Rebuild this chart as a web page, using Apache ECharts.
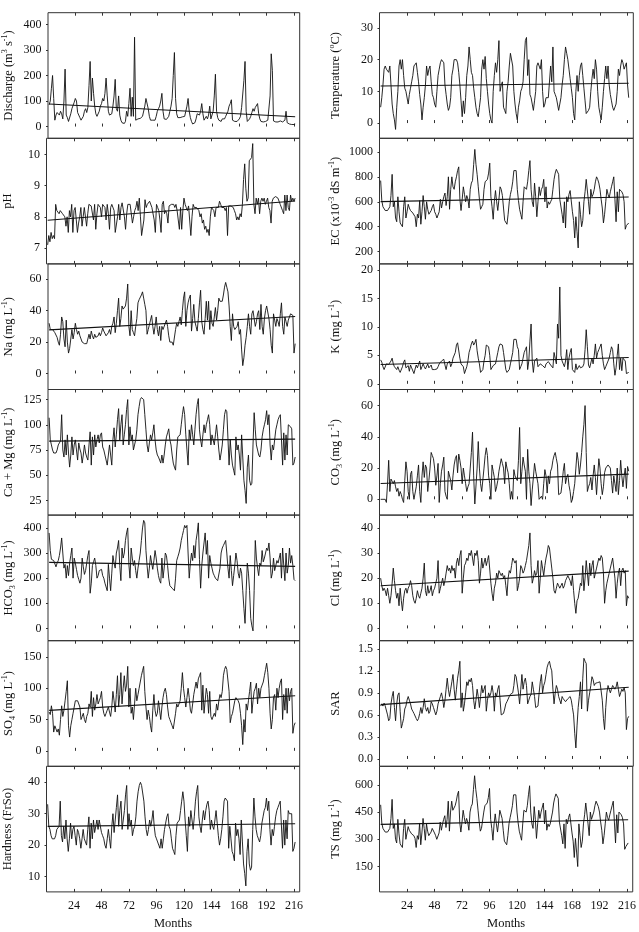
<!DOCTYPE html>
<html>
<head>
<meta charset="utf-8">
<script src="https://cdn.jsdelivr.net/npm/echarts@6/dist/echarts.min.js"></script>
<style>
  html, body { margin: 0; padding: 0; background: #fff; }
  #chart { width: 639px; height: 932px; }
</style>
</head>
<body>
<div id="chart"></div>
<script>
// monthly records, month 1 .. 217
const discharge = [
  85, 100, 150, 200, 110, 25, 45, 55, 60, 45, 60, 50,
  30, 100, 225, 45, 35, 20, 25, 50, 70, 65, 95, 110,
  100, 55, 45, 35, 25, 20, 40, 60, 70, 55, 75, 160,
  255, 100, 190, 130, 80, 50, 40, 45, 60, 80, 90, 110,
  100, 130, 190, 120, 60, 45, 40, 50, 80, 120, 185, 70,
  60, 120, 45, 25, 15, 10, 12, 20, 60, 40, 90, 150,
  40, 115, 40, 350, 25, 30, 30, 28, 32, 30, 40, 45,
  80, 110, 115, 70, 40, 25, 22, 25, 28, 25, 40, 60,
  70, 80, 100, 130, 60, 30, 25, 28, 35, 40, 60, 80,
  110, 200, 290, 110, 50, 35, 33, 35, 35, 38, 35, 40,
  60, 80, 110, 60, 35, 20, 10, 12, 15, 30, 50, 55,
  45, 60, 90, 50, 25, 20, 40, 30, 45, 80, 30, 35,
  60, 120, 205, 60, 35, 25, 25, 20, 30, 35, 30, 40,
  50, 60, 80, 90, 105, 25, 20, 20, 22, 20, 22, 30,
  40, 75, 70, 180, 255, 60, 20, 20, 30, 40, 55, 70,
  60, 75, 80, 90, 50, 30, 20, 20, 18, 22, 20, 25,
  25, 30, 120, 285, 220, 22, 20, 18, 20, 18, 20, 22,
  20, 18, 20, 25, 60, 15, 12, 10, 12, 8, 10, 8,
  10
];
const temperature = [
  5, 8, 12, 17, 18, 17, 17, 16, 18, 12, 6, 3,
  1, -2, 5, 10, 18, 20, 17, 20, 15, 11, 10, 10,
  6, 9, 11, 13, 15, 18, 18, 19, 16, 13, 9, 6,
  1, 5, 8, 12, 18, 15, 17, 18, 13, 9, 8, 6,
  5, 10, 15, 17, 19, 20, 20, 19, 12, 9, 6, 4,
  5, 8, 15, 17, 20, 20, 20, 19, 16, 12, 7, 2,
  7, 3, 8, 15, 18, 24, 20, 16, 15, 11, 8, 5,
  3, 2, 5, 8, 17, 20, 17, 21, 14, 10, 6, 3,
  1, 0, 10, 15, 19, 16, 20, 26, 10, 12, 13, 5,
  4, 3, 10, 13, 18, 22, 22, 18, 10, 6, 3, 1,
  5, 7, 10, 11, 13, 20, 26, 27, 15, 20, 9, 8,
  6, 4, 7, 10, 18, 19, 19, 17, 20, 10, 5, 6,
  8, 8, 8, 8, 18, 13, 24, 10, 9, 8, 6, 4,
  6, 8, 12, 15, 20, 24, 22, 20, 17, 14, 11, 8,
  3, 1, 10, 15, 10, 15, 18, 19, 15, 11, 7, 3,
  3, 4, 5, 10, 14, 17, 14, 20, 17, 10, 5, 3,
  1, 5, 10, 14, 18, 14, 18, 12, 9, 7, 5, 4,
  4, 6, 10, 17, 15, 18, 20, 19, 17, 18, 19, 12,
  8
];
const ph = [
  7.1, 7.4, 7.2, 7.5, 7.3, 7.4, 7.3, 8.4, 8.2, 8.2, 8.1, 8.2,
  8.15, 8.1, 8.1, 8.0, 7.7, 8.0, 7.5, 8.2, 8.0, 8.4, 7.5, 8.2,
  8.3, 8.25, 7.5, 7.8, 8.0, 8.3, 7.7, 8.0, 8.3, 8.35, 7.7, 8.1,
  8.4, 8.4, 8.35, 8.4, 7.9, 8.4, 7.6, 8.1, 8.4, 8.35, 8.3, 8.0,
  8.4, 8.4, 8.3, 7.9, 8.4, 8.1, 7.6, 8.3, 8.4, 8.35, 8.2, 7.5,
  7.5, 8.0, 8.4, 7.9, 8.3, 8.45, 8.4, 8.0, 7.6, 8.1, 8.4, 8.45,
  8.4, 8.4, 7.8, 8.0, 8.2, 8.3, 8.5, 8.2, 8.6, 8.0, 7.4, 7.35,
  7.9, 8.55, 8.3, 8.4, 8.4, 8.5, 8.5, 8.3, 8.3, 7.9, 7.5, 8.4,
  8.3, 8.2, 7.9, 7.5, 8.4, 8.5, 8.1, 8.2, 8.1, 7.8, 8.35, 8.4,
  8.4, 8.45, 8.4, 8.3, 8.4, 8.2, 7.9, 7.6, 8.3, 7.6, 8.2, 8.6,
  8.4, 8.3, 8.2, 8.35, 8.4, 7.4, 8.0, 8.4, 8.3, 8.35, 8.3, 8.35,
  8.2, 8.0, 8.1, 7.8, 7.9, 7.6, 7.7, 7.5, 7.6, 7.4, 8.0, 8.3,
  8.25, 8.2, 8.0, 8.3, 8.25, 8.3, 8.5, 8.4, 8.3, 8.35, 8.3, 8.2,
  8.3, 7.4, 8.35, 8.4, 8.35, 8.3, 8.3, 8.2, 8.1, 7.9, 8.0, 7.9,
  8.1, 8.0, 8.4, 9.2, 9.7, 8.9, 8.5, 8.6, 9.8, 9.85, 9.9, 10.35,
  8.4, 8.1, 8.6, 8.4, 8.6, 8.1, 8.5, 8.6, 8.5, 8.6, 8.4, 8.5,
  8.6, 8.3, 8.2, 7.8, 8.5, 8.6, 8.55, 8.65, 8.7, 8.6, 8.5, 8.4,
  8.45, 8.2, 8.1, 8.7, 8.2, 8.7, 8.3, 8.2, 8.7, 8.5, 8.6, 8.5,
  8.6
];
const ec = [
  770, 610, 560, 550, 530, 525, 530, 535, 560, 650, 820, 560,
  600, 470, 440, 640, 520, 430, 420, 400, 560, 640, 470, 520,
  580, 550, 530, 520, 510, 500, 480, 400, 500, 470, 610, 420,
  520, 650, 560, 460, 600, 540, 500, 490, 530, 560, 580, 520,
  500, 470, 460, 520, 620, 550, 600, 640, 670, 570, 640, 800,
  540, 700, 800, 720, 700, 760, 800, 850, 880, 620, 530, 620,
  720, 660, 600, 650, 620, 550, 700, 750, 770, 900, 1020, 900,
  820, 720, 620, 540, 560, 580, 700, 760, 770, 780, 830, 910,
  640, 560, 460, 600, 690, 600, 530, 620, 720, 700, 650, 550,
  450, 440, 420, 500, 600, 660, 700, 760, 850, 860, 850, 700,
  610, 540, 500, 460, 600, 720, 710, 700, 760, 850, 930, 700,
  600, 560, 750, 640, 480, 600, 720, 650, 700, 720, 780, 600,
  720, 550, 600, 580, 600, 620, 700, 780, 830, 860, 840, 820,
  620, 620, 500, 430, 600, 390, 640, 600, 660, 690, 700, 520,
  450, 310, 480, 360, 230, 600, 500, 400, 450, 600, 680, 780,
  780, 600, 500, 700, 640, 660, 700, 760, 800, 780, 750, 700,
  620, 550, 430, 500, 600, 700, 660, 630, 680, 720, 760, 800,
  620, 440, 680, 520, 700, 690, 680, 660, 600, 380, 410, 420,
  430
];
const na = [
  32, 28, 27, 28, 27, 26, 25, 23, 20, 18, 25, 36,
  33, 22, 17, 34, 20, 13, 16, 17, 28, 22, 26, 32,
  28, 25, 27, 24, 22, 20, 20, 19, 20, 19, 18, 25,
  22, 27, 24, 22, 25, 23, 24, 24, 26, 24, 26, 29,
  27, 26, 24, 23, 26, 28, 25, 30, 32, 36, 26, 32,
  40, 48, 30, 35, 43, 41, 42, 43, 48, 57, 30, 24,
  40, 28, 26, 24, 30, 35, 45, 47, 48, 50, 52, 48,
  44, 40, 25, 28, 31, 34, 37, 30, 25, 30, 36, 28,
  24, 30, 21, 30, 28, 29, 32, 34, 30, 24, 20, 19,
  20, 18, 17, 28, 32, 30, 33, 36, 31, 40, 48, 52,
  30, 40, 45, 48, 50, 27, 35, 44, 33, 30, 27, 35,
  45, 53, 33, 28, 25, 35, 46, 34, 46, 28, 40, 32,
  30, 36, 42, 34, 40, 48, 46, 47, 46, 50, 55, 58,
  55, 52, 43, 30, 21, 38, 30, 28, 29, 30, 33, 25,
  28, 15, 5, 10, 18, 23, 30, 38, 30, 25, 38, 40,
  35, 30, 33, 38, 40, 28, 44, 30, 25, 35, 40, 43,
  44, 35, 28, 18, 13, 38, 34, 30, 35, 33, 30, 38,
  45, 30, 25, 36, 33, 30, 34, 36, 38, 39, 37, 13,
  19
];
const potassium = [
  4.2, 3.8, 3.0, 2.5, 2.2, 3.5, 3.3, 3.4, 3.6, 4.0, 4.5, 3.5,
  3.0, 3.2, 2.5, 3.0, 2.4, 2.0, 2.2, 3.0, 3.8, 4.2, 2.8, 3.0,
  3.2, 2.2, 3.3, 2.8, 2.5, 1.8, 2.6, 3.3, 2.8, 3.4, 4.0, 2.5,
  3.0, 3.5, 3.0, 2.6, 2.3, 3.5, 2.8, 3.0, 3.3, 2.5, 2.6, 2.5,
  2.5, 2.6, 3.0, 3.5, 3.8, 4.0, 4.2, 4.3, 3.3, 2.5, 3.5, 3.8,
  4.0, 3.0, 3.5, 4.5, 4.2, 5.5, 6.8, 7.2, 7.5, 4.5, 3.5, 3.8,
  3.0, 1.8, 2.0, 3.0, 4.0, 5.5, 6.2, 7.0, 7.5, 6.8, 7.2, 7.8,
  5.8, 4.5, 3.5, 2.0, 2.3, 2.5, 4.0, 5.0, 6.8, 6.7, 6.5, 5.0,
  2.5, 2.8, 3.2, 3.0, 3.5, 4.5, 5.5, 6.5, 7.0, 6.9, 6.8, 5.5,
  4.0, 2.5, 2.0, 2.2, 2.5, 3.5, 4.5, 5.5, 7.8, 7.5, 7.8, 6.5,
  6.0, 2.5, 3.0, 3.5, 4.5, 5.5, 6.0, 6.5, 2.5, 4.0, 7.5, 10.5,
  4.0, 2.0, 4.0, 4.2, 4.5, 3.0, 3.3, 3.5, 3.4, 3.2, 3.0, 2.8,
  3.5, 3.8, 3.9, 4.0, 3.3, 3.0, 2.8, 5.5, 4.5, 3.5, 10.5, 8.0,
  17.0, 5.0, 4.0, 3.5, 3.0, 4.0, 6.0, 2.5, 4.5, 5.5, 6.2, 2.5,
  2.3, 2.0, 3.5, 2.5, 2.8, 3.2, 2.8, 2.5, 3.0, 3.5, 6.0, 9.5,
  6.5, 3.3, 2.8, 2.5, 4.5, 3.5, 5.0, 7.0, 4.5, 5.5, 6.0, 6.5,
  7.0, 5.0, 3.5, 2.5, 3.0, 3.3, 4.0, 4.5, 5.5, 6.5, 6.0, 3.5,
  1.5, 2.8, 5.0, 7.0, 2.5, 4.5, 2.3, 4.5, 4.2, 4.0, 1.8, 1.5,
  2.0
];
const caMg = [
  107, 85, 80, 75, 72, 72, 72, 75, 80, 82, 84, 110,
  75, 68, 85, 70, 90, 72, 58, 70, 88, 70, 80, 85,
  75, 65, 82, 76, 72, 62, 70, 80, 72, 68, 65, 80,
  93, 60, 88, 70, 90, 78, 85, 90, 82, 90, 92, 78,
  75, 70, 65, 60, 70, 80, 70, 60, 85, 97, 78, 90,
  105, 116, 85, 100, 110, 80, 90, 100, 115, 125, 80, 98,
  85, 90, 75, 80, 85, 95, 110, 118, 125, 127, 126, 125,
  110, 95, 80, 73, 82, 90, 85, 92, 100, 85, 75, 70,
  68, 65, 62, 70, 62, 70, 80, 88, 92, 96, 85, 80,
  70, 62, 58, 55, 75, 88, 88, 90, 100, 110, 118, 110,
  90, 75, 60, 95, 85, 100, 90, 80, 95, 110, 120, 126,
  95, 85, 78, 90, 100, 92, 100, 105, 110, 100, 80, 90,
  85, 80, 90, 100, 88, 75, 65, 72, 80, 95, 110, 115,
  113, 112, 60, 85, 70, 60, 55, 50, 88, 75, 80, 70,
  55, 90, 68, 45, 35, 22, 58, 70, 45, 40, 42, 80,
  112, 95, 80, 75, 70, 68, 75, 88, 95, 100, 105, 114,
  100, 110, 80, 65, 80, 75, 85, 95, 100, 105, 108, 110,
  110, 60, 92, 65, 90, 70, 100, 99, 98, 96, 60, 62,
  68
];
const co3 = [
  0, 0, 0, 0, 0, -2, 10, 25, 5, 13, 12, 10,
  12, 8, 5, 7, 2, 5, 3, 0, -2, 12, 24, 18,
  5, 0, 16, 18, 5, 0, 0, 8, 15, 22, 5, -2,
  15, 24, 14, 22, 20, 5, 12, 20, 30, 28, 26, 20,
  9, 15, 23, -2, 10, 18, 22, 27, 5, 2, 0, 18,
  17, 12, 6, 15, 22, 26, 28, 17, 29, 25, 20, 10,
  20, 15, 10, 5, 8, 10, 20, 30, 43, 15, -3, -3,
  20, 37, 20, 10, 5, 5, 20, 28, 33, 28, 15, 10,
  0, 22, 18, 14, 5, 8, 12, 18, 22, 26, 23, 20,
  10, 24, 20, 17, 10, 0, 5, 0, 19, 15, 15, 12,
  25, 46, 10, 18, 27, 22, 18, 0, 32, 18, 10, -4,
  6, 14, 23, 18, 14, 10, 0, 0, 2, 0, 10, 19,
  15, 4, 15, 10, 18, 20, 25, 28, 30, 26, 22, 3,
  3, 4, 10, 18, 23, 10, 14, 16, 9, 5, -2, 0,
  5, 10, 20, 30, 25, 16, 22, 30, 40, 48, 60, 30,
  5, 8, 10, 14, 6, 15, 22, 14, 3, 15, 26, 20,
  10, 3, 8, 17, 20, 21, 22, 21, 20, 12, 4, 15,
  10, 5, 20, 3, 12, 25, 15, 8, 15, 20, 7, 21,
  18
];
const hco3 = [
  380, 310, 275, 275, 270, 265, 245, 260, 270, 290, 320, 360,
  300, 240, 255, 200, 250, 210, 260, 290, 320, 200, 280, 260,
  235, 210, 195, 180, 200, 280, 245, 215, 230, 260, 290, 310,
  140, 180, 250, 265, 280, 250, 200, 210, 230, 225, 235, 210,
  200, 180, 165, 150, 255, 200, 150, 220, 290, 260, 240, 300,
  320, 350, 250, 190, 320, 280, 300, 350, 380, 400, 255, 200,
  320, 280, 250, 270, 230, 200, 240, 270, 300, 350, 400, 430,
  420, 310, 250, 200, 240, 290, 260, 235, 270, 310, 280, 240,
  210, 190, 180, 280, 200, 240, 300, 290, 250, 200, 170, 165,
  160, 155, 150, 200, 270, 285, 300, 320, 350, 370, 390, 410,
  400, 410, 300, 200, 260, 300, 270, 330, 280, 350, 380, 420,
  275, 160, 250, 300, 340, 380, 295, 350, 200, 290, 260, 240,
  220, 210, 200, 195, 190, 190, 240, 300, 320, 330, 340, 350,
  300, 240, 200, 290, 230, 170, 210, 250, 300, 270, 220, 200,
  240, 220, 150, 80, 20, 150, 260, 220, 150, 40, 10, -10,
  150, 350, 280, 240, 210, 260, 250, 310, 265, 280, 300, 320,
  310, 340, 280, 200, 220, 280, 230, 250, 270, 260, 280, 300,
  200, 320, 250, 190, 300, 220, 250, 320, 260, 290, 250, 195,
  190
];
const cl = [
  20, 17, 15, 16, 15, 13, 16, 13, 10, 13, 18, 24,
  19, 15, 12, 14, 9, 16, 11, 7, 12, 15, 16, 14,
  16, 17, 19, 17, 13, 11, 10, 12, 15, 13, 12, 14,
  16, 20, 26, 15, 13, 17, 14, 15, 17, 13, 15, 16,
  18, 20, 27, 14, 16, 18, 20, 17, 19, 22, 25, 23,
  24, 22, 25, 23, 24, 20, 26, 28, 25, 29, 31, 14,
  20, 25, 26, 28, 27, 30, 29, 31, 28, 25, 30, 29,
  31, 27, 18, 22, 28, 24, 26, 28, 25, 27, 29, 29,
  18, 14, 11, 16, 18, 22, 20, 23, 22, 21, 22, 20,
  21, 17, 13, 20, 23, 22, 25, 28, 27, 26, 27, 15,
  17, 20, 25, 24, 22, 23, 25, 27, 30, 33, 38, 25,
  18, 20, 23, 21, 22, 27, 14, 20, 27, 24, 21, 25,
  28, 30, 33, 32, 28, 24, 20, 15, 14, 16, 18, 17,
  16, 17, 18, 16, 17, 19, 20, 21, 20, 19, 17, 21,
  15, 10, 6, 11, 12, 15, 18, 17, 25, 15, 20, 27,
  22, 17, 26, 21, 25, 27, 20, 22, 24, 26, 28, 27,
  29, 28, 22, 10, 15, 18, 20, 22, 24, 26, 28, 28,
  20, 12, 18, 22, 24, 17, 23, 24, 22, 23, 9, 13,
  12
];
const so4 = [
  62, 58, 72, 60, 30, 40, 35, 30, 35, 25, 50, 72,
  55, 65, 80, 95, 112, 40, 22, 40, 50, 60, 70, 80,
  82, 80, 78, 70, 50, 55, 60, 50, 45, 55, 60, 75,
  70, 95, 55, 85, 65, 75, 90, 75, 80, 85, 95, 70,
  60, 55, 60, 65, 70, 62, 55, 70, 95, 80, 62, 90,
  120, 70, 90, 125, 75, 100, 120, 95, 105, 135, 70, 100,
  60, 70, 50, 75, 100, 80, 90, 100, 110, 120, 128, 135,
  95, 70, 50, 65, 55, 40, 30, 65, 90, 65, 55, 60,
  80, 65, 50, 70, 85, 95, 100, 90, 70, 55, 50, 45,
  40, 35, 35, 60, 75, 70, 70, 80, 100, 125, 100, 85,
  70, 85, 100, 85, 65, 60, 75, 90, 100, 110, 100, 115,
  120, 125, 65, 105, 60, 80, 100, 90, 60, 95, 55, 50,
  50, 60, 55, 75, 65, 80, 90, 85, 95, 120, 130, 135,
  130, 130, 95, 45, 55, 60, 70, 80, 85, 82, 80, 75,
  60, 40, 10, 50, 30, 75, 65, 80, 95, 110, 60, 80,
  95, 100, 108, 75, 100, 85, 100, 105, 110, 120, 130, 140,
  125, 100, 60, 35, 50, 85, 90, 65, 100, 85, 100, 110,
  115, 50, 90, 65, 100, 60, 100, 80, 95, 100, 28, 40,
  45
];
const sar = [
  0.72, 0.75, 0.72, 0.76, 0.72, 0.70, 0.60, 0.52, 0.55, 0.75, 0.85, 0.92,
  0.70, 0.52, 0.75, 0.87, 0.90, 0.65, 0.42, 0.48, 0.55, 0.68, 0.72, 0.80,
  0.85, 0.80, 0.75, 0.68, 0.65, 0.62, 0.60, 0.55, 0.52, 0.55, 0.62, 0.70,
  0.62, 0.70, 0.82, 0.70, 0.65, 0.70, 0.62, 0.65, 0.78, 0.75, 0.70, 0.72,
  0.60, 0.65, 0.75, 0.80, 0.85, 0.90, 0.82, 0.70, 0.80, 0.95, 1.10, 0.95,
  0.85, 0.95, 1.05, 1.15, 0.95, 0.80, 0.95, 1.10, 1.20, 1.33, 0.70, 0.90,
  0.65, 0.75, 0.90, 1.05, 1.00, 1.08, 1.05, 1.10, 1.00, 0.80, 0.68, 0.80,
  0.95, 0.85, 0.70, 0.85, 1.00, 0.90, 0.95, 1.00, 0.65, 0.80, 0.90, 0.85,
  0.90, 1.00, 0.90, 0.65, 0.90, 0.85, 0.95, 1.00, 0.80, 0.60, 0.58, 0.62,
  0.68, 0.75, 0.78, 0.80, 0.85, 0.88, 0.90, 0.90, 1.00, 1.15, 1.12, 1.10,
  0.90, 0.75, 0.95, 1.15, 0.95, 1.05, 1.10, 1.00, 0.75, 0.80, 0.85, 0.88,
  1.05, 0.95, 0.85, 0.70, 0.72, 0.72, 0.90, 1.05, 1.15, 0.90, 1.00, 1.05,
  1.15, 1.25, 1.30, 1.33, 1.25, 1.20, 0.95, 0.75, 0.90, 1.00, 0.95, 0.85,
  0.80, 0.75, 0.85, 0.82, 0.80, 0.78, 0.80, 0.82, 0.84, 0.85, 0.80, 0.70,
  0.60, 0.35, 0.15, 0.45, 0.70, 0.85, 1.05, 0.68, 1.10, 1.37, 1.33, 1.30,
  0.65, 0.80, 0.90, 1.00, 1.12, 1.08, 1.00, 1.03, 1.05, 1.04, 1.06, 1.05,
  1.05, 0.80, 0.55, 0.40, 0.70, 0.90, 1.00, 0.95, 0.90, 0.95, 1.00, 0.98,
  0.95, 0.98, 1.05, 0.95, 0.85, 0.90, 0.95, 0.92, 0.97, 0.90, 0.40, 0.55,
  0.58
];
const hardness = [
  33, 26, 25, 23, 22, 22, 22, 23, 25, 25, 26, 34,
  23, 21, 26, 22, 28, 22, 18, 22, 27, 22, 25, 26,
  23, 20, 25, 24, 22, 19, 22, 25, 22, 21, 20, 25,
  29, 19, 27, 22, 28, 24, 26, 28, 25, 28, 28, 24,
  23, 22, 20, 19, 22, 25, 22, 19, 26, 30, 24, 28,
  32, 36, 26, 31, 34, 25, 28, 31, 36, 39, 25, 30,
  26, 28, 23, 25, 26, 29, 34, 37, 39, 40, 39, 39,
  34, 29, 25, 23, 25, 28, 26, 28, 31, 26, 23, 22,
  21, 20, 19, 22, 19, 22, 25, 27, 29, 30, 26, 25,
  22, 19, 18, 17, 23, 27, 27, 28, 31, 34, 37, 34,
  28, 23, 18, 29, 26, 31, 28, 25, 29, 34, 37, 39,
  29, 26, 24, 28, 31, 28, 31, 33, 34, 31, 25, 28,
  26, 25, 28, 31, 27, 23, 20, 22, 25, 29, 34, 35,
  35, 34, 19, 26, 22, 18, 17, 15, 27, 23, 25, 22,
  17, 28, 21, 14, 11, 7, 18, 22, 14, 12, 13, 25,
  35, 29, 25, 23, 22, 21, 23, 27, 29, 31, 32, 35,
  31, 34, 25, 20, 25, 23, 26, 29, 31, 32, 33, 34,
  34, 19, 28, 20, 28, 22, 31, 30, 30, 30, 18, 19,
  21
];
const ts = [
  490, 390, 360, 350, 340, 335, 340, 340, 360, 415, 520, 360,
  385, 300, 280, 410, 330, 275, 270, 255, 360, 410, 300, 335,
  370, 350, 340, 330, 325, 320, 305, 255, 320, 300, 390, 270,
  335, 415, 360, 295, 385, 345, 320, 315, 340, 360, 370, 335,
  320, 300, 295, 335, 395, 350, 385, 410, 430, 365, 410, 510,
  345, 450, 510, 460, 450, 485, 510, 545, 565, 395, 340, 395,
  460, 420, 385, 415, 395, 350, 450, 480, 495, 575, 650, 575,
  525, 460, 395, 345, 360, 370, 450, 485, 495, 500, 530, 580,
  410, 360, 295, 385, 440, 385, 340, 395, 460, 450, 415, 350,
  290, 280, 270, 320, 385, 420, 450, 485, 545, 550, 545, 450,
  390, 345, 320, 295, 385, 460, 455, 450, 485, 545, 595, 450,
  385, 360, 480, 410, 305, 385, 460, 415, 450, 460, 500, 385,
  460, 350, 385, 370, 385, 395, 450, 500, 530, 550, 540, 525,
  395, 395, 320, 275, 385, 250, 410, 385, 420, 440, 450, 335,
  290, 200, 305, 230, 150, 385, 320, 255, 290, 385, 435, 500,
  500, 385, 320, 450, 410, 420, 450, 485, 510, 500, 480, 450,
  395, 350, 275, 320, 385, 450, 420, 405, 435, 460, 485, 510,
  395, 280, 435, 335, 450, 440, 435, 420, 385, 245, 260, 270,
  280
];

// fitted linear trends: value at first and last month
const trendMonths = [1, 217];
const dischargeTrend = [88.6, 38.4];
const temperatureTrend = [11.7, 12.55];
const phTrend = [7.89, 8.51];
const ecTrend = [601, 638];
const naTrend = [27.8, 36.3];
const potassiumTrend = [3.39, 4.62];
const caMgTrend = [83.8, 85.8];
const co3Trend = [10.1, 16.1];
const hco3Trend = [262.7, 246.9];
const clTrend = [17.0, 22.8];
const so4Trend = [64.6, 88.1];
const sarTrend = [0.74, 0.977];
const hardnessTrend = [25.96, 26.8];
const tsTrend = [382, 408];

// tick labels
const monthTicks = [24, 48, 72, 96, 120, 144, 168, 192, 216];
const dischargeTicks = [0, 100, 200, 300, 400];
const temperatureTicks = [0, 10, 20, 30];
const phTicks = [7, 8, 9, 10];
const ecTicks = [200, 400, 600, 800, 1000];
const naTicks = [0, 20, 40, 60];
const potassiumTicks = [0, 5, 10, 15, 20];
const caMgTicks = [25, 50, 75, 100, 125];
const co3Ticks = [0, 20, 40, 60];
const hco3Ticks = [0, 100, 200, 300, 400];
const clTicks = [0, 10, 20, 30, 40];
const so4Ticks = [0, 50, 100, 150];
const sarTicks = [0, 0.3, 0.6, 0.9, 1.2, 1.5];
const hardnessTicks = [10, 20, 30, 40];
const tsTicks = [150, 300, 450, 600];

const FONT = "'Liberation Serif', 'DejaVu Serif', serif";
const INK = "#111";

const panels = [
  { col: 0, row: 0, name: "{t|Discharge (m}{sup|3}{t| s}{sup|-1}{t|)}", data: discharge, trend: dischargeTrend, ticks: dischargeTicks, min: -46, max: 446 },
  { col: 0, row: 1, name: "{t|pH}", data: ph, trend: phTrend, ticks: phTicks, min: 6.49, max: 10.52 },
  { col: 0, row: 2, name: "{t|Na (mg L}{sup|-1}{t|)}", data: na, trend: naTrend, ticks: naTicks, min: -10.2, max: 69.8 },
  { col: 0, row: 3, name: "{t|Ca + Mg (mg L}{sup|-1}{t|)}", data: caMg, trend: caMgTrend, ticks: caMgTicks, min: 10.4, max: 135 },
  { col: 0, row: 4, name: "{t|HCO}{sub|3}{t| (mg L}{sup|-1}{t|)}", data: hco3, trend: hco3Trend, ticks: hco3Ticks, min: -49, max: 451 },
  { col: 0, row: 5, name: "{t|SO}{sub|4}{t| (mg L}{sup|-1}{t|)}", data: so4, trend: so4Trend, ticks: so4Ticks, min: -24.7, max: 176 },
  { col: 0, row: 6, name: "{t|Hardness (FrSo)}", data: hardness, trend: hardnessTrend, ticks: hardnessTicks, min: 5.1, max: 45.1 },
  { col: 1, row: 0, name: "{t|Temperature (}{sup|o}{t|C)}", data: temperature, trend: temperatureTrend, ticks: temperatureTicks, min: -4.8, max: 34.8 },
  { col: 1, row: 1, name: "{t|EC (x10}{sup|-3}{t| dS m}{sup|-1}{t|)}", data: ec, trend: ecTrend, ticks: ecTicks, min: 102, max: 1109 },
  { col: 1, row: 2, name: "{t|K (mg L}{sup|-1}{t|)}", data: potassium, trend: potassiumTrend, ticks: potassiumTicks, min: -1, max: 21.05 },
  { col: 1, row: 3, name: "{t|CO}{sub|3}{t| (mg L}{sup|-1}{t|)}", data: co3, trend: co3Trend, ticks: co3Ticks, min: -10.1, max: 70.3 },
  { col: 1, row: 4, name: "{t|Cl (mg L}{sup|-1}{t|)}", data: cl, trend: clTrend, ticks: clTicks, min: -4.9, max: 45.1 },
  { col: 1, row: 5, name: "{t|SAR}", data: sar, trend: sarTrend, ticks: sarTicks, min: -0.1, max: 1.61, decimals: 1 },
  { col: 1, row: 6, name: "{t|TS (mg L}{sup|-1}{t|)}", data: ts, trend: tsTrend, ticks: tsTicks, min: 10.5, max: 702 }
];

const nameRich = {
  t: { fontFamily: FONT, fontSize: 12.5, color: INK, lineHeight: 16 },
  sup: { fontFamily: FONT, fontSize: 8, color: INK, lineHeight: 9, verticalAlign: "top" },
  sub: { fontFamily: FONT, fontSize: 8, color: INK, lineHeight: 9, verticalAlign: "bottom" }
};

const ROW_TOP = 12.7;
const ROW_H = 125.6;

const grids = [];
const xAxes = [];
const yAxes = [];
const series = [];

panels.forEach(function (p, i) {
  const last = p.row === 6;
  grids.push({
    left: p.col ? 379.5 : 46.4,
    width: p.col ? 253.8 : 253.3,
    top: ROW_TOP + p.row * ROW_H,
    height: ROW_H,
    show: true,
    borderColor: "#333",
    borderWidth: 1,
    backgroundColor: "transparent"
  });
  const xBase = {
    type: "value",
    gridIndex: i,
    min: 0,
    max: 221,
    axisLine: { show: false },
    splitLine: { show: false },
    axisTick: { show: true, inside: true, length: 3, customValues: monthTicks, lineStyle: { color: "#333" } }
  };
  xAxes.push(Object.assign({}, xBase, {
    position: "bottom",
    axisLabel: {
      show: last,
      customValues: monthTicks,
      fontFamily: FONT,
      fontSize: 12,
      color: INK,
      margin: 8
    },
    name: last ? "Months" : "",
    nameLocation: "middle",
    nameGap: 25,
    nameTextStyle: { fontFamily: FONT, fontSize: 12.5, color: INK }
  }));
  xAxes.push(Object.assign({}, xBase, {
    position: "top",
    axisLabel: { show: false }
  }));
  yAxes.push({
    type: "value",
    gridIndex: i,
    min: p.min,
    max: p.max,
    axisLine: { show: false },
    splitLine: { show: false },
    axisTick: { show: true, length: 2, customValues: p.ticks, lineStyle: { color: "#333" } },
    axisLabel: {
      customValues: p.ticks,
      fontFamily: FONT,
      fontSize: 12,
      color: INK,
      margin: 6.5,
      formatter: function (v) { return p.decimals ? v.toFixed(p.decimals) : String(v); }
    },
    name: p.name,
    nameLocation: "middle",
    nameRotate: 90,
    nameGap: p.col ? 36 : 31,
    nameTextStyle: { rich: nameRich }
  });
  series.push({
    type: "line",
    xAxisIndex: i * 2,
    yAxisIndex: i,
    data: p.data.map(function (v, k) { return [k + 1, v]; }),
    showSymbol: false,
    symbol: "none",
    silent: true,
    lineStyle: { color: INK, width: 0.9 },
    animation: false
  });
  series.push({
    type: "line",
    xAxisIndex: i * 2,
    yAxisIndex: i,
    data: trendMonths.map(function (m, k) { return [m, p.trend[k]]; }),
    symbol: "none",
    silent: true,
    lineStyle: { color: INK, width: 1.1 },
    animation: false
  });
});

const chart = echarts.init(document.getElementById("chart"), null, { renderer: "canvas" });
chart.setOption({
  backgroundColor: "#fff",
  animation: false,
  grid: grids,
  xAxis: xAxes,
  yAxis: yAxes,
  series: series
});
</script>
</body>
</html>
